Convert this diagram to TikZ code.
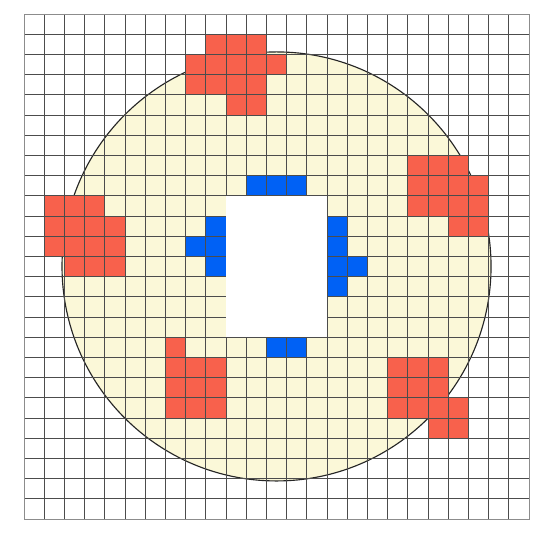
\documentclass[tikz,border=0pt]{standalone}
\definecolor{cellred}{HTML}{F8614C}
\definecolor{cellblue}{HTML}{0061F5}
\definecolor{disc}{HTML}{FBF8D8}
\begin{document}
\begin{tikzpicture}[x=0.5cm,y=-0.5cm,
  redcell/.style={fill=cellred},
  bluecell/.style={fill=cellblue},
  gridline/.style={draw=black!70,line width=0.5pt},
  border/.style={draw=black!45,line width=0.6pt},
  wafer/.style={fill=disc},
  rim/.style={draw=black!85,line width=0.8pt}]
\useasboundingbox (-1.19,-0.69) rectangle (25.94,25.84);
% disc
\fill[wafer] (12.5,12.5) circle (10.62);
\draw[rim] (12.5,12.5) circle (10.62);
% red cells
\foreach \c/\r in {9/1,10/1,11/1, 8/2,9/2,10/2,11/2,12/2, 8/3,9/3,10/3,11/3, 10/4,11/4,
  1/9,2/9,3/9, 1/10,2/10,3/10,4/10, 1/11,2/11,3/11,4/11, 2/12,3/12,4/12,
  19/7,20/7,21/7, 19/8,20/8,21/8,22/8, 19/9,20/9,21/9,22/9, 21/10,22/10,
  7/16, 7/17,8/17,9/17, 7/18,8/18,9/18, 7/19,8/19,9/19,
  18/17,19/17,20/17, 18/18,19/18,20/18, 18/19,19/19,20/19,21/19, 20/20,21/20}
  \fill[redcell] (\c,\r) rectangle ++(1,1);
% blue cells
\foreach \c/\r in {11/8,12/8,13/8, 9/10,8/11,9/11,9/12, 15/10,15/11,15/12,16/12,15/13, 12/16,13/16}
  \fill[bluecell] (\c,\r) rectangle ++(1,1);
% grid
\foreach \i in {1,...,24} {
  \draw[gridline] (\i,0) -- (\i,25);
  \draw[gridline] (0,\i) -- (25,\i);
}
\draw[border] (0,0) rectangle (25,25);
% central opening
\fill[white] (10,9) rectangle (15,16);
\end{tikzpicture}
\end{document}
